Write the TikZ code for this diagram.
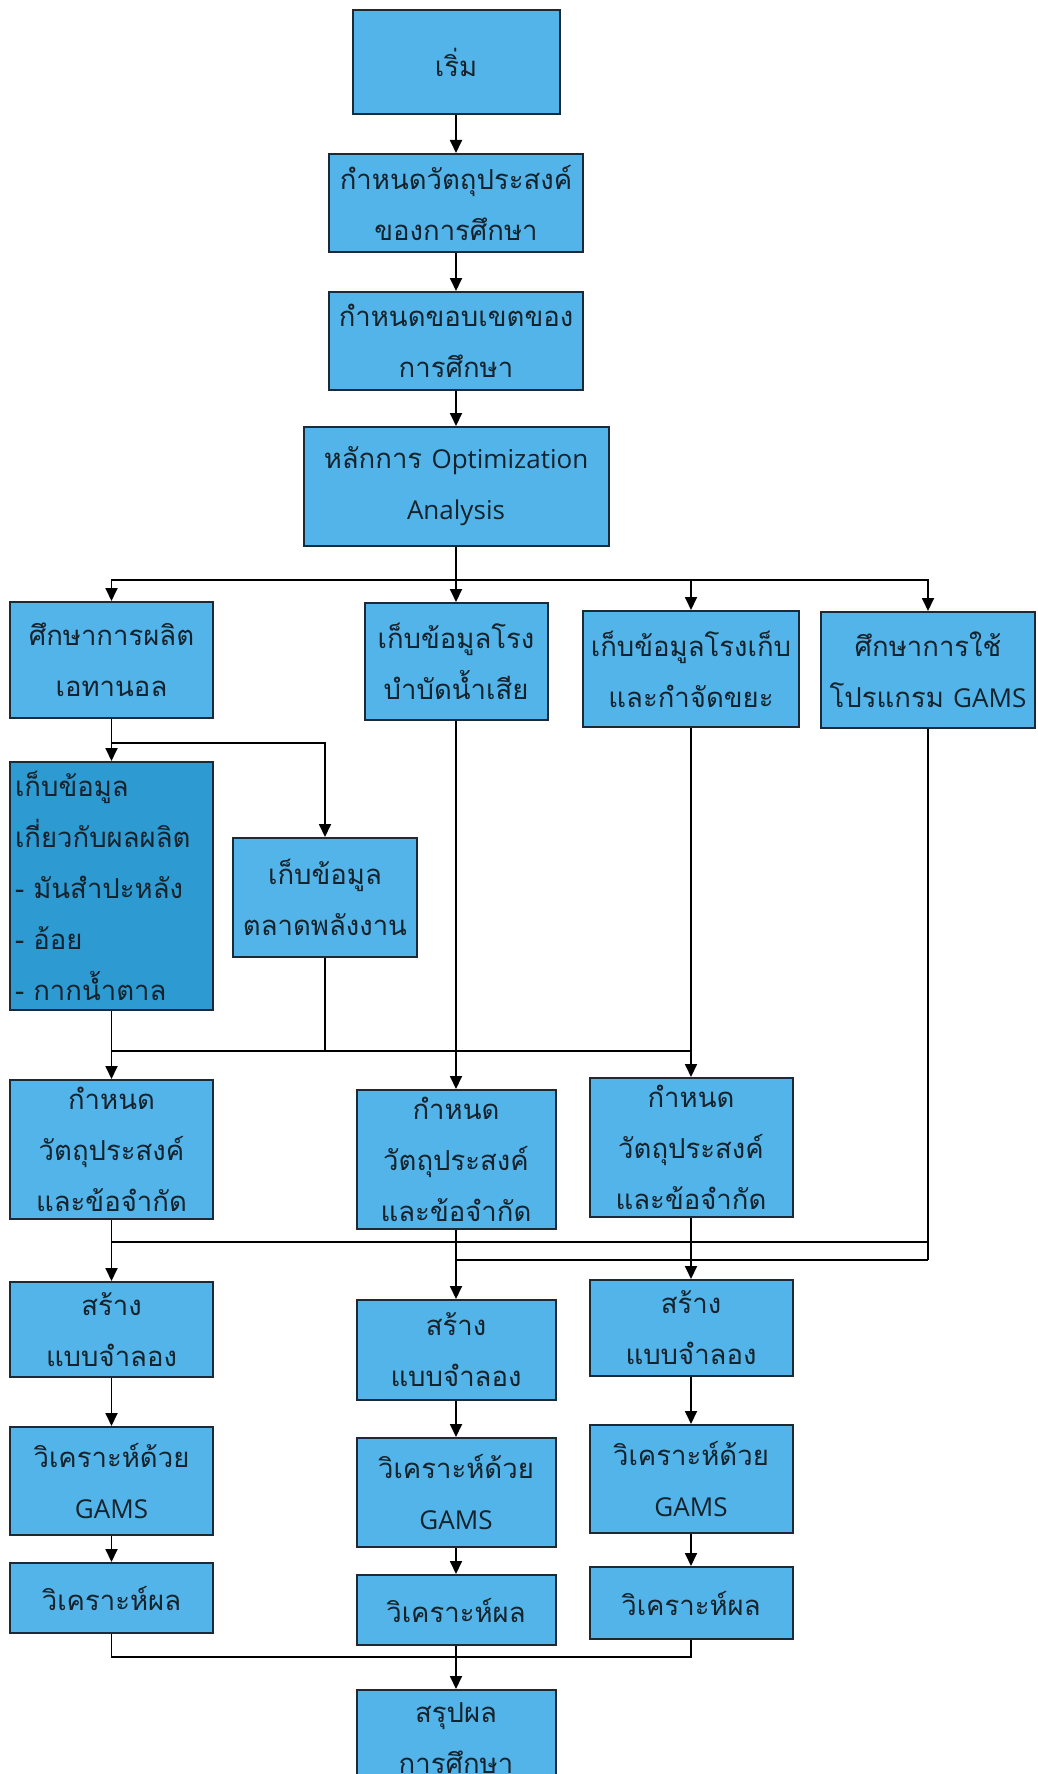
\documentclass[tikz,border=0pt]{standalone}
\usepackage{fontspec}
\usetikzlibrary{arrows.meta}
\newfontfamily\thaifont[Script=Thai]{Loma}
\newfontfamily\latinsans{Open Sans}
\newcommand{\latx}[1]{{\latinsans\fontsize{26}{51}\selectfont #1}}
\definecolor{boxblue}{HTML}{52B4E8}
\definecolor{boxdark}{HTML}{2D9AD2}
\definecolor{edgecol}{HTML}{1B2A36}
\definecolor{inkcol}{HTML}{16222C}
\tikzset{
  box/.style={draw=edgecol, line width=2pt, fill=boxblue, text=inkcol,
    font=\thaifont\fontsize{27.5}{51}\selectfont, align=center, inner sep=0pt},
  darkbox/.style={box, fill=boxdark, align=left},
  conn/.style={draw=black, line width=1.8pt},
  arr/.style={conn, -{Triangle[length=13pt,width=12pt]}}
}
\begin{document}
\begin{tikzpicture}[x=1pt,y=-1pt]
\useasboundingbox (0,0) rectangle (1037,1774);
\clip (0,0) rectangle (1037,1774);
\fill[white] (0,0) rectangle (1037,1774);

% top chain
\node[box, minimum width=207, minimum height=104] (start) at (456,62) {เริ่ม};
\node[box, minimum width=254, minimum height=98] (obj) at (456,203) {กำหนดวัตถุประสงค์\\ของการศึกษา};
\node[box, minimum width=254, minimum height=98] (scope) at (456,341) {กำหนดขอบเขตของ\\การศึกษา};
\node[box, minimum width=305, minimum height=119] (opt) at (456,486.5) {หลักการ \latx{Optimization}\\\latx{Analysis}};

% row 2
\node[box, minimum width=203, minimum height=116] (eth) at (111.5,660) {ศึกษาการผลิต\\เอทานอล};
\node[box, minimum width=183, minimum height=117] (ww) at (456,661.5) {เก็บข้อมูลโรง\\บำบัดน้ำเสีย};
\node[box, minimum width=216, minimum height=116] (sw) at (691,669) {เก็บข้อมูลโรงเก็บ\\และกำจัดขยะ};
\node[box, minimum width=214, minimum height=116] (gams) at (928,670) {ศึกษาการใช้\\โปรแกรม \latx{GAMS}};

% fork from ethanol
\node[darkbox, minimum width=203, minimum height=248, text width=193] (prod) at (111.5,886)
  {เก็บข้อมูล\\เกี่ยวกับผลผลิต\\- มันสำปะหลัง\\- อ้อย\\- กากน้ำตาล};
\node[box, minimum width=184, minimum height=119] (mkt) at (325,897.5) {เก็บข้อมูล\\ตลาดพลังงาน};

% row 3
\node[box, minimum width=203, minimum height=139] (c1) at (111.5,1149.5) {กำหนด\\วัตถุประสงค์\\และข้อจำกัด};
\node[box, minimum width=199, minimum height=139] (c2) at (456,1159.5) {กำหนด\\วัตถุประสงค์\\และข้อจำกัด};
\node[box, minimum width=203, minimum height=139] (c3) at (691,1147.5) {กำหนด\\วัตถุประสงค์\\และข้อจำกัด};

% row 4
\node[box, minimum width=203, minimum height=95] (m1) at (111.5,1329.5) {สร้าง\\แบบจำลอง};
\node[box, minimum width=199, minimum height=100] (m2) at (456,1350) {สร้าง\\แบบจำลอง};
\node[box, minimum width=203, minimum height=96] (m3) at (691,1328) {สร้าง\\แบบจำลอง};

% row 5
\node[box, minimum width=203, minimum height=108] (g1) at (111.5,1481) {วิเคราะห์ด้วย\\\latx{GAMS}};
\node[box, minimum width=199, minimum height=109] (g2) at (456,1492.5) {วิเคราะห์ด้วย\\\latx{GAMS}};
\node[box, minimum width=203, minimum height=108] (g3) at (691,1479) {วิเคราะห์ด้วย\\\latx{GAMS}};

% row 6
\node[box, minimum width=203, minimum height=70] (r1) at (111.5,1598) {วิเคราะห์ผล};
\node[box, minimum width=199, minimum height=70] (r2) at (456,1610) {วิเคราะห์ผล};
\node[box, minimum width=203, minimum height=72] (r3) at (691,1603) {วิเคราะห์ผล};

% summary
\node[box, minimum width=199, minimum height=96] (sum) at (456,1738) {สรุปผล\\การศึกษา};

% connectors: top chain
\draw[arr] (start) -- (obj);
\draw[arr] (obj) -- (scope);
\draw[arr] (scope) -- (opt);

% branch bus
\coordinate (bus1) at (456,580);
\draw[conn] (opt.south) -- (bus1);
\draw[arr] (bus1) -| (eth.north);
\draw[arr] (bus1) -- (ww.north);
\draw[arr] (bus1) -| (sw.north);
\draw[arr] (bus1) -| (gams.north);

% fork from ethanol
\coordinate (fk) at (111.5,743);
\draw[conn] (eth.south) -- (fk);
\draw[arr] (fk) -- (prod.north);
\draw[arr] (fk) -| (mkt.north);

% merge to row 3
\coordinate (mg) at (111.5,1051);
\draw[arr] (prod.south) -- (c1.north);
\draw[conn] (mkt.south) -- (mkt.south |- mg);
\draw[conn] (mg) -- (sw.south |- mg);
\draw[arr] (ww.south) -- (c2.north);
\draw[arr] (sw.south) -- (c3.north);

% merge to row 4
\coordinate (busA) at (111.5,1242);
\coordinate (busB) at (456,1260);
\draw[conn] (busA) -- (gams.south |- busA);
\draw[conn] (busB) -- (gams.south |- busB);
\draw[conn] (gams.south) -- (gams.south |- busB);
\draw[arr] (c1.south) -- (m1.north);
\draw[arr] (c2.south) -- (m2.north);
\draw[arr] (c3.south) -- (m3.north);

% columns
\draw[arr] (m1) -- (g1);
\draw[arr] (m2) -- (g2);
\draw[arr] (m3) -- (g3);
\draw[arr] (g1) -- (r1);
\draw[arr] (g2) -- (r2);
\draw[arr] (g3) -- (r3);

% final merge
\coordinate (fin) at (456,1657);
\draw[conn] (r1.south) |- (fin);
\draw[conn] (r3.south) |- (fin);
\draw[arr] (r2.south) -- (sum.north);
\end{tikzpicture}
\end{document}
